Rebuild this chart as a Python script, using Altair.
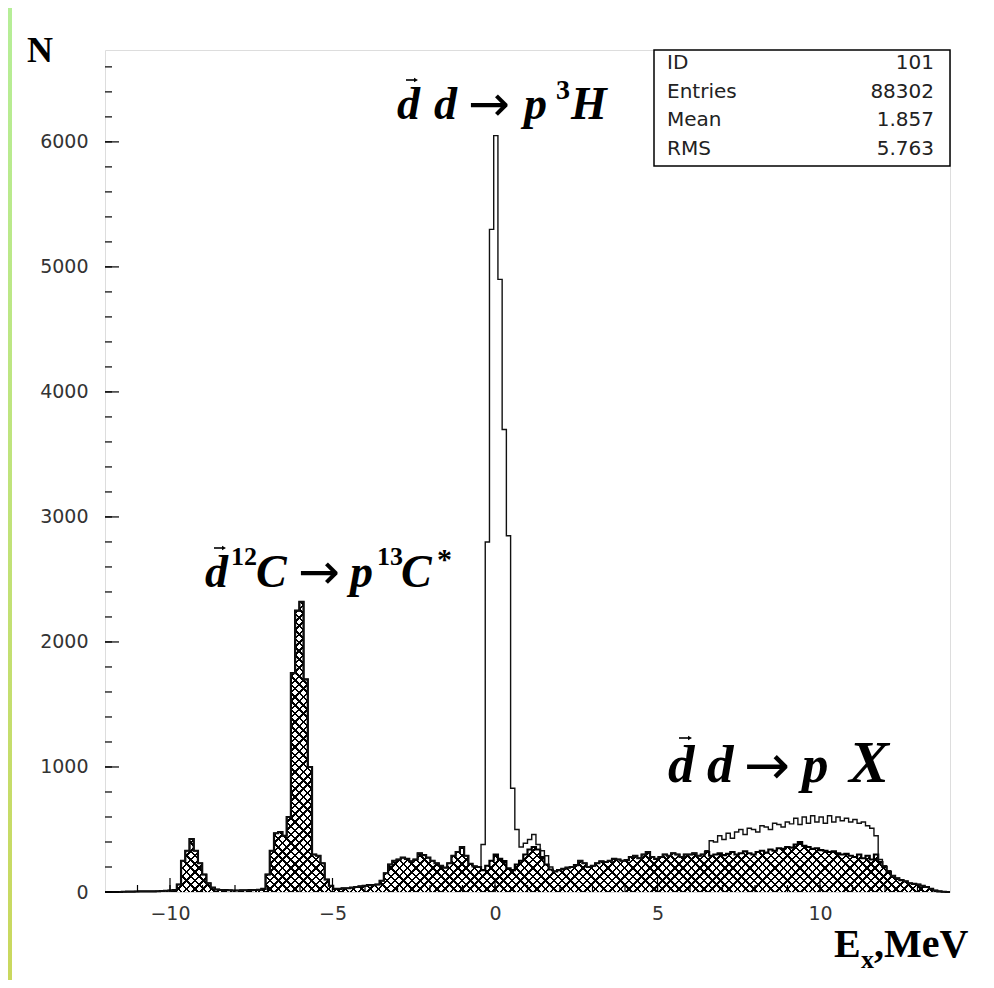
import altair as alt
import pandas as pd
import numpy as np

# ---------------- data ----------------
X_MIN, X_MAX = -12.0, 14.0      # histogram range, MeV
N_BINS = 200                     # bins of 0.13 MeV
Y_MAX = 6735

# hatched histogram (counts per bin), bins from -12 MeV upward
hatched = [
    0, 0, 0, 0, 2, 3, 3, 4, 5, 5,
    5, 5, 6, 8, 10, 12, 15, 60, 250, 330,
    424, 330, 230, 140, 70, 35, 20, 16, 15, 14,
    12, 12, 14, 14, 15, 16, 18, 25, 140, 330,
    470, 480, 450, 600, 1750, 2250, 2320, 1700, 1000, 300,
    290, 230, 100, 50, 25, 25, 30, 30, 35, 40,
    45, 50, 55, 55, 60, 90, 150, 220, 250, 260,
    275, 265, 245, 260, 310, 295, 275, 250, 230, 210,
    195, 230, 290, 320, 360, 290, 225, 205, 200, 175,
    210, 250, 300, 265, 248, 190, 175, 220, 250, 300,
    340, 360, 340, 280, 220, 180, 165, 175, 185, 195,
    200, 215, 250, 230, 200, 210, 230, 245, 240, 250,
    265, 260, 250, 255, 280, 290, 270, 300, 320, 280,
    265, 280, 300, 290, 310, 300, 280, 300, 300, 310,
    290, 300, 320, 290, 300, 310, 295, 305, 320, 300,
    310, 325, 310, 300, 320, 330, 315, 340, 330, 350,
    345, 360, 355, 380, 400, 370, 360, 345, 350, 335,
    330, 320, 325, 310, 300, 305, 290, 280, 300, 270,
    290, 260, 300, 240, 200, 160, 130, 110, 95, 85,
    70, 65, 60, 50, 40, 25, 12, 5, 2, 0,
]

# total histogram (open outline)
total = [
    0, 0, 0, 0, 2, 3, 3, 4, 5, 5,
    5, 5, 6, 8, 10, 12, 15, 60, 250, 330,
    424, 330, 230, 140, 70, 35, 20, 16, 15, 14,
    12, 12, 14, 14, 15, 16, 18, 25, 140, 330,
    470, 480, 450, 600, 1750, 2250, 2320, 1700, 1000, 300,
    290, 230, 100, 50, 25, 25, 30, 30, 35, 40,
    45, 50, 55, 55, 60, 90, 150, 220, 250, 260,
    275, 265, 245, 260, 310, 295, 275, 250, 230, 210,
    195, 230, 290, 320, 360, 290, 225, 205, 200, 380,
    2800, 5300, 6050, 4900, 3700, 2850, 830, 500, 360, 390,
    420, 460, 380, 330, 290, 200, 165, 175, 185, 195,
    200, 215, 250, 230, 200, 210, 230, 245, 240, 250,
    265, 260, 250, 255, 280, 290, 270, 300, 320, 280,
    265, 280, 300, 290, 310, 300, 280, 300, 300, 310,
    290, 300, 330, 410, 400, 450, 420, 470, 430, 480,
    500, 460, 510, 500, 480, 530, 520, 500, 550, 540,
    520, 560, 545, 590, 540, 600, 550, 610, 560, 600,
    550, 610, 560, 600, 570, 590, 560, 580, 550, 560,
    530, 510, 450, 260, 210, 170, 130, 110, 95, 85,
    70, 65, 60, 50, 40, 25, 12, 5, 2, 0,
]

x_tick_labels = [-10, -5, 0, 5, 10]
y_tick_labels = [0, 1000, 2000, 3000, 4000, 5000, 6000]
x_minor = list(range(-11, 14))
y_minor = list(range(0, 6735, 200))

stats_names = ["ID", "Entries", "Mean", "RMS"]
stats_values = ["101", "88302", "1.857", "5.763"]

# ---------------- layout ----------------
W, H = 845, 842          # plot area
PL, PT = 97, 42          # padding (page margin 8 added by browser)
OX, OY = PL + 8, PT + 8  # page position of plot origin

bw = (X_MAX - X_MIN) / N_BINS
edges = [X_MIN + bw * i for i in range(N_BINS)] + [X_MAX]
df = pd.DataFrame({
    "x": edges,
    "total": total + [total[-1]],
    "hatched": hatched + [hatched[-1]],
})

xs = alt.Scale(domain=[X_MIN, X_MAX], nice=False, zero=False)
ys = alt.Scale(domain=[0, Y_MAX], nice=False)

# cross-hatch built from two striped gradients
hh = max(hatched) / Y_MAX * H
r = hh / W
dx = (1 + r) / (1 + r * r)
dy = dx * r
period = 5.9
n = int(round((W + hh) / (np.sqrt(2) * period)))
frac = 0.30


def stripes(x1, y1, x2, y2):
    stops = []
    for i in range(n):
        a, b, c = i / n, (i + frac) / n, (i + 1) / n
        stops += [
            alt.GradientStop(offset=a, color="black"),
            alt.GradientStop(offset=b, color="black"),
            alt.GradientStop(offset=b, color="rgba(255,255,255,0)"),
            alt.GradientStop(offset=c, color="rgba(255,255,255,0)"),
        ]
    return alt.LinearGradient(gradient="linear", stops=stops, x1=x1, y1=y1, x2=x2, y2=y2)


base = alt.Chart(df)
X = alt.X("x:Q", scale=xs,
          axis=alt.Axis(values=x_tick_labels, ticks=False, domain=False, grid=False, title=None,
                        format="d", labelFontSize=19, labelFont="DejaVu Sans", labelColor="#333",
                        labelPadding=12))

area1 = base.mark_area(interpolate="step-after", fill=stripes(0, 0, dx, dy)).encode(
    x=X,
    y=alt.Y("hatched:Q", scale=ys,
            axis=alt.Axis(values=y_tick_labels, ticks=False, domain=False, grid=False, title=None,
                          format="d", labelFontSize=19, labelFont="DejaVu Sans", labelColor="#333",
                          labelPadding=17)))
area2 = base.mark_area(interpolate="step-after", fill=stripes(0, 1, dx, 1 - dy)).encode(
    x=alt.X("x:Q", scale=xs), y=alt.Y("hatched:Q", scale=ys))
line_h = base.mark_line(interpolate="step-after", color="black", strokeWidth=2.2).encode(
    x=alt.X("x:Q", scale=xs), y=alt.Y("hatched:Q", scale=ys))
line_t = base.mark_line(interpolate="step-after", color="#111", strokeWidth=1.4).encode(
    x=alt.X("x:Q", scale=xs), y=alt.Y("total:Q", scale=ys))

# inward ticks
ymaj = pd.DataFrame({"v": y_tick_labels})
ymin = pd.DataFrame({"v": y_minor})
xmaj = pd.DataFrame({"v": x_tick_labels})
xmin = pd.DataFrame({"v": x_minor})
tick_y_major = alt.Chart(ymaj).mark_rule(color="black", strokeWidth=1.2).encode(
    y=alt.Y("v:Q", scale=ys), x=alt.value(0), x2=alt.value(14))
tick_y_minor = alt.Chart(ymin).mark_rule(color="black", strokeWidth=1.2).encode(
    y=alt.Y("v:Q", scale=ys), x=alt.value(0), x2=alt.value(7))
tick_x_major = alt.Chart(xmaj).mark_rule(color="black", strokeWidth=1.2).encode(
    x=alt.X("v:Q", scale=xs), y=alt.value(H), y2=alt.value(H - 14))
tick_x_minor = alt.Chart(xmin).mark_rule(color="black", strokeWidth=1.2).encode(
    x=alt.X("v:Q", scale=xs), y=alt.value(H), y2=alt.value(H - 7))

one = pd.DataFrame({"a": [0]})

# statistics box
box = alt.Chart(one).mark_rect(fill="white", stroke="black", strokeWidth=1.5).encode(
    x=alt.value(654 - OX), x2=alt.value(W), y=alt.value(0), y2=alt.value(166 - OY))
stats = []
for i, (nm, vl) in enumerate(zip(stats_names, stats_values)):
    yy = 63 + 28.5 * i - OY
    stats.append(alt.Chart(one).mark_text(text=nm, align="left", baseline="middle", fontSize=20,
                                          font="DejaVu Sans", color="#222").encode(
        x=alt.value(667 - OX), y=alt.value(yy)))
    stats.append(alt.Chart(one).mark_text(text=vl, align="right", baseline="middle", fontSize=20,
                                          font="DejaVu Sans", color="#222").encode(
        x=alt.value(934 - OX), y=alt.value(yy)))


def txt(s, x, y, size=46, italic=True, bold=True, font="Liberation Serif"):
    kw = dict(text=s, align="left", baseline="alphabetic", fontSize=size,
              font=font, color="black",
              fontWeight="bold" if bold else "normal")
    if italic:
        kw["fontStyle"] = "italic"
    return alt.Chart(one).mark_text(**kw).encode(x=alt.value(x - OX), y=alt.value(y - OY))


def arrow(x0, y, size=50):
    """long reaction arrow"""
    return txt("\u2192", x0, y, size=size, italic=False, bold=False, font="DejaVu Sans")


def vec(x0, y, length=10):
    """small vector arrow drawn above a letter (rule + triangle head)"""
    shaft = alt.Chart(one).mark_rule(color="black", strokeWidth=1.6).encode(
        x=alt.value(x0 - OX), x2=alt.value(x0 + length - OX), y=alt.value(y - OY))
    head = alt.Chart(one).mark_point(shape="triangle-right", filled=True, color="black",
                                     size=22, opacity=1).encode(
        x=alt.value(x0 + length - OX), y=alt.value(y - OY))
    return [shaft, head]


texts = [
    # d d -> p 3H
    txt("d", 397, 119), *vec(406, 80),
    txt("d", 434, 119), arrow(468, 121), txt("p", 524, 119),
    txt("3", 556, 99, size=28, italic=False), txt("H", 571, 119),
    # d 12C -> p 13C*
    txt("d", 205, 587), *vec(214, 548),
    txt("12", 231, 565, size=26, italic=False), txt("C", 256, 587),
    arrow(298, 589), txt("p", 350, 587),
    txt("13", 377, 565, size=26, italic=False), txt("C", 401, 587),
    txt("*", 437, 569, size=30, italic=False),
    # d d -> p X
    txt("d", 668, 782, size=53), *vec(679, 738, 11),
    txt("d", 707, 782, size=53), arrow(744, 784, size=55), txt("p", 802, 782, size=53),
    txt("X", 849, 782, size=60),
    # axis titles
    txt("N", 27, 62, size=36, italic=False),
    txt("E", 834, 957, size=40, italic=False), txt("x", 861, 968, size=26, italic=False),
    txt(",MeV", 874, 957, size=40, italic=False),
]

# green slide border strip on the left
strip = alt.Chart(one).mark_rect(
    fill=alt.LinearGradient(gradient="linear", x1=0, y1=0, x2=0, y2=1,
                            stops=[alt.GradientStop(offset=0, color="#b6ee98"),
                                   alt.GradientStop(offset=1, color="#cad85e")])).encode(
    x=alt.value(-PL), x2=alt.value(-PL + 4), y=alt.value(-PT), y2=alt.value(H + 88))

chart = alt.layer(
    strip, area1, area2, line_h, line_t,
    tick_y_major, tick_y_minor, tick_x_major, tick_x_minor,
    box, *stats, *texts,
).properties(
    width=W, height=H,
    autosize=alt.AutoSizeParams(type="none"),
    padding={"left": PL, "top": PT, "right": 978 - PL - W, "bottom": 972 - PT - H},
).configure_view(stroke="black", strokeWidth=1.6).configure(background="white")

chart.save("out.html", embed_options={"renderer": "svg", "actions": False})
